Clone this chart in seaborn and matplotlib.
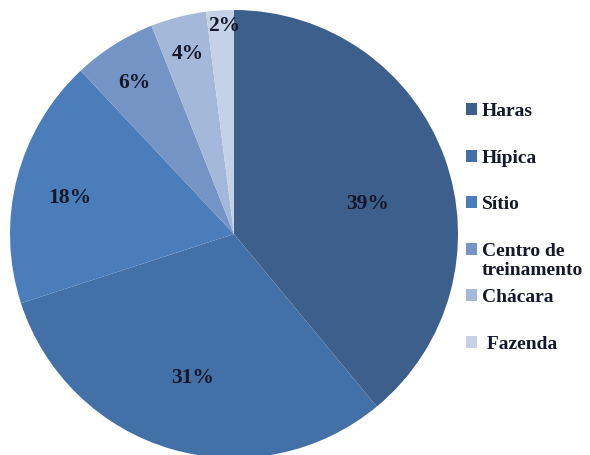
import matplotlib
matplotlib.use("Agg")
import matplotlib.pyplot as plt
import seaborn as sns
import numpy as np
from matplotlib.patches import Patch

sns.set_theme(style="white")
plt.rcParams['font.family'] = ['Liberation Serif', 'DejaVu Serif']

categories = ["Haras", "Hípica", "Sítio", "Centro de", "Chácara", " Fazenda"]
extra_line = "treinamento"
values = [39, 31, 18, 6, 4, 2]
colors = ["#3D5F8C", "#4470A8", "#4A7DBA", "#7494C5", "#A4B8DA", "#C5D1E6"]
label_dist = [0.61, 0.67, 0.75, 0.81, 0.83, 0.93]
label_rot = [-7, 0, 2, 1, 0, -1]

fig = plt.figure(figsize=(5.9, 4.55), dpi=100)
ax = fig.add_axes([10/590, -3/455, 448/590, 448/455])
wedges, _ = ax.pie(values, colors=colors, startangle=90, counterclock=False,
                   radius=1, wedgeprops=dict(linewidth=0))
ax.set_xlim(-1, 1)
ax.set_ylim(-1, 1)
ax.set_aspect("equal")

for w, v, d, r in zip(wedges, values, label_dist, label_rot):
    ang = np.deg2rad((w.theta1 + w.theta2) / 2 + r)
    ax.text(d * np.cos(ang), d * np.sin(ang), f"{v}%", ha="center", va="center",
            fontsize=15.5, fontweight="bold", color="#15182a")

handles = [Patch(facecolor=c, edgecolor="none") for c in colors]
leg = fig.legend(handles, categories, loc="upper left", bbox_to_anchor=(466/590, 1 - 103/455),
                 frameon=False, prop=dict(size=14, weight="bold"),
                 handlelength=0.55, handleheight=0.55, handletextpad=0.25,
                 labelspacing=1.52, borderpad=0, borderaxespad=0)
for t in leg.get_texts():
    t.set_color("#15182a")

fig.canvas.draw()
ct = leg.get_texts()[3]
bb = ct.get_window_extent().transformed(fig.transFigure.inverted())
fig.text(bb.x0, bb.y0 - 2/455, extra_line, ha="left", va="top",
         fontsize=14, fontweight="bold", color="#15182a")

fig.savefig("out.png", dpi=100)
